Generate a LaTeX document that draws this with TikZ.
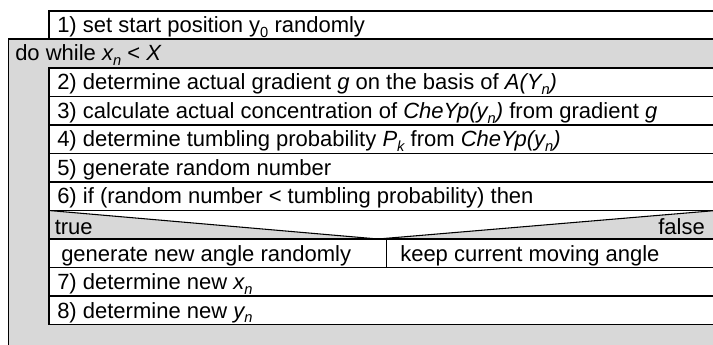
\documentclass[tikz,border=0pt]{standalone}
\usepackage{fontspec}
\setmainfont{Liberation Sans}
% lowered, smaller index letter (x_n, y_0, P_k ...)
\newcommand\lowidx[1]{\raisebox{-0.22em}{\fontsize{11}{11}\selectfont #1}}
\definecolor{loopgray}{RGB}{216,216,216}
\begin{document}
\begin{tikzpicture}[x=0.75pt,y=-0.75pt,
  rule/.style={draw=black,line width=0.8pt},
  stepbox/.style={rule,fill=white},
  lbl/.style={anchor=base west,inner sep=0pt,font=\fontsize{16.5}{19}\selectfont},
  rlbl/.style={lbl,anchor=base east}]
\useasboundingbox (0,0) rectangle (713,345);
\clip (0,0) rectangle (713,345);
\def\R{716}

% initial statement
\draw[stepbox] (49,11) rectangle (\R,39);

% loop block (open to the right and bottom)
\fill[loopgray] (8.5,39) rectangle (\R,360);
\draw[rule] (8.5,360) -- (8.5,39) -- (\R,39);

% loop body statements
\draw[stepbox] (49,68)    rectangle (\R,96.5);
\draw[stepbox] (49,96.5)  rectangle (\R,125);
\draw[stepbox] (49,125)   rectangle (\R,153.5);
\draw[stepbox] (49,153.5) rectangle (\R,182);
\draw[stepbox] (49,182)   rectangle (\R,210.5);

% decision header: white triangle on gray
\fill[loopgray] (49,210.5) rectangle (\R,239);
\fill[white] (49,210.5) -- (378,239) -- (\R,210.5) -- cycle;
\draw[rule] (49,210.5) rectangle (\R,239);
\draw[rule] (49,210.5) -- (378,239) -- (\R,210.5);

% branches
\draw[stepbox] (49,239) rectangle (\R,267.5);
\draw[rule] (386.7,239) -- (386.7,267.5);

% remaining statements
\draw[stepbox] (49,267.5) rectangle (\R,296);
\draw[stepbox] (49,296)   rectangle (\R,324.5);

% texts
\node[lbl] (init) at (57,33) {1) set start position y\lowidx{0} randomly};
\node[lbl] (loop) at (15,61) {do while \textit{x\lowidx{n}} < \textit{X}};
\node[lbl] (s2) at (57,90) {2) determine actual gradient \textit{g} on the basis of \textit{A(Y\lowidx{n})}};
\node[lbl] (s3) at (57,118.5) {3) calculate actual concentration of \textit{CheYp(y\lowidx{n})} from gradient \textit{g}};
\node[lbl] (s4) at (57,147) {4) determine tumbling probability \textit{P\lowidx{k}} from \textit{CheYp(y\lowidx{n})}};
\node[lbl] (s5) at (57,175.5) {5) generate random number};
\node[lbl] (s6) at (57,204) {6) if (random number < tumbling probability) then};
\node[lbl] (yes) at (54.5,234.5) {true};
\node[rlbl] (no) at (705,234.5) {false};
\node[lbl] (tumble) at (61,261) {generate new angle randomly};
\node[lbl] (keep) at (400,261) {keep current moving angle};
\node[lbl] (s7) at (57,289.5) {7) determine new \textit{x\lowidx{n}}};
\node[lbl] (s8) at (57,318) {8) determine new \textit{y\lowidx{n}}};
\end{tikzpicture}
\end{document}
